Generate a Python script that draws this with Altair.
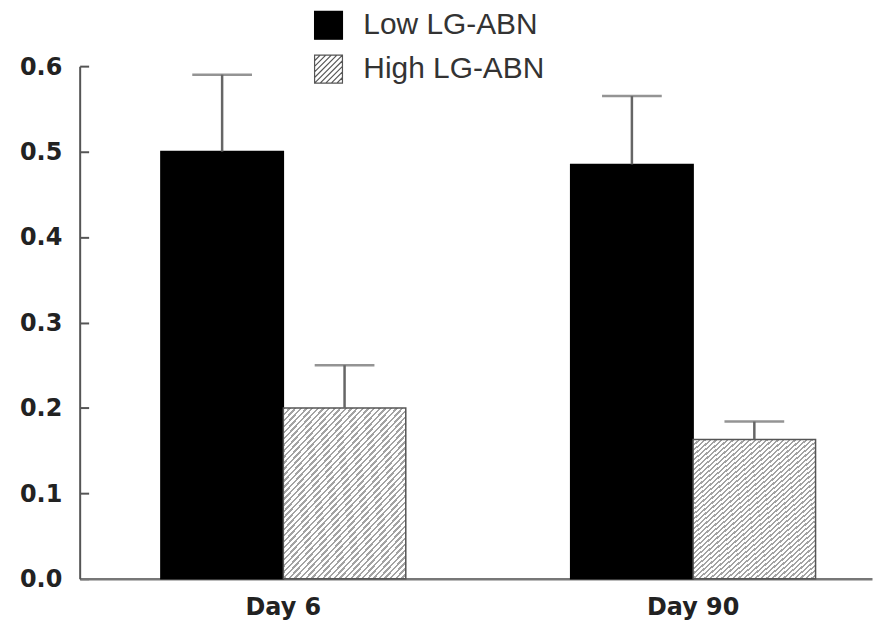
import altair as alt
import pandas as pd

groups = ["Day 6", "Day 90"]
series_names = ["Low LG-ABN", "High LG-ABN"]
low_mean = [0.50, 0.485]
low_upper = [0.59, 0.565]
high_mean = [0.20, 0.163]
high_upper = [0.25, 0.184]
y_ticks = [0.0, 0.1, 0.2, 0.3, 0.4, 0.5, 0.6]

rows = []
for i, g in enumerate(groups):
    rows.append({"group": g, "series": series_names[0], "mean": low_mean[i], "upper": low_upper[i]})
    rows.append({"group": g, "series": series_names[1], "mean": high_mean[i], "upper": high_upper[i]})
df = pd.DataFrame(rows)

# diagonal hatch as a striped linear gradient
N = 50
dark, light = "#a3a3a3", "#ffffff"
stops = []
for i in range(N):
    a = round(i / N, 5)
    b = round((i + 0.42) / N, 5)
    c = round((i + 1) / N, 5)
    stops += [
        {"offset": a, "color": dark},
        {"offset": b, "color": dark},
        {"offset": b, "color": light},
        {"offset": c, "color": light},
    ]
hatch = {"gradient": "linear", "x1": 0, "y1": 0, "x2": 0.856, "y2": 1.111, "stops": stops}

# hatched square symbol for the legend
segs = []
for k in range(-4, 5):
    cv = k * 0.4
    if cv <= 0:
        x0, y0, x1, y1 = -1, cv + 1, cv + 1, -1
    else:
        x0, y0, x1, y1 = cv - 1, 1, 1, cv - 1
    segs.append(f"M{x0:.2f},{y0:.2f}L{x1:.2f},{y1:.2f}")
hatch_path = "M-1,-1H1V1H-1Z" + "".join(segs)
symbol_expr = f"datum.value === 'High LG-ABN' ? '{hatch_path}' : 'square'"

legend = alt.Legend(
    title=None,
    orient="none",
    legendX=235,
    legendY=-56,
    padding=0,
    symbolSize=784,
    symbolType=alt.ExprRef(expr=symbol_expr),
    symbolStrokeWidth=1.2,
    labelFont="Liberation Sans",
    labelFontSize=30,
    labelColor="#333333",
    labelOffset=20,
    labelLimit=500,
    rowPadding=10,
)

x = alt.X(
    "group:N",
    sort=groups,
    scale=alt.Scale(paddingInner=0.4024, paddingOuter=0.168, align=0.59),
    axis=alt.Axis(
        title=None, labelAngle=0, ticks=False, tickSize=0, labelPadding=17,
        labelFont="DejaVu Sans", labelFontWeight="bold", labelFontSize=24,
        labelColor="#222222", domainColor="#777777", domainWidth=2.5,
    ),
)
xoff = alt.XOffset("series:N", sort=series_names, scale=alt.Scale(paddingInner=0, paddingOuter=0))
y = alt.Y(
    "mean:Q",
    scale=alt.Scale(domain=[0, 0.6], nice=False, zero=True),
    axis=alt.Axis(
        title=None, values=y_ticks, format=".1f", ticks=False, tickSize=0,
        labelPadding=18, labelOffset=1, labelFont="DejaVu Sans",
        labelFontWeight="bold", labelFontSize=24, labelColor="#222222",
        domainColor="#555555", domainWidth=2, grid=True, gridDash=[9, 2000],
        gridColor="#555555", gridWidth=2,
    ),
)

base = alt.Chart(df)

bars = base.mark_bar(strokeWidth=1.5).encode(
    x=x,
    xOffset=xoff,
    y=y,
    fill=alt.Fill(
        "series:N",
        sort=series_names,
        scale=alt.Scale(domain=series_names, range=["black", "white"]),
        legend=legend,
        condition={"test": "datum.series === 'High LG-ABN'", "value": hatch},
    ),
    stroke=alt.Stroke(
        "series:N",
        sort=series_names,
        scale=alt.Scale(domain=series_names, range=["black", "#555555"]),
        legend=legend,
    ),
)

err = base.mark_rule(color="#666666", strokeWidth=2.5).encode(
    x=x, xOffset=xoff, y="mean:Q", y2="upper:Q"
)
caps = base.mark_tick(color="#666666", thickness=2.5, size=60).encode(
    x=x, xOffset=xoff, y="upper:Q"
)

chart = (
    alt.layer(bars, err, caps)
    .properties(
        width=796,
        height=515,
        autosize="none",
        padding={"left": 72, "top": 57, "right": 2, "bottom": 40},
    )
    .configure_view(stroke=None)
)

chart.save("out.html", embed_options={"renderer": "svg", "actions": False})
